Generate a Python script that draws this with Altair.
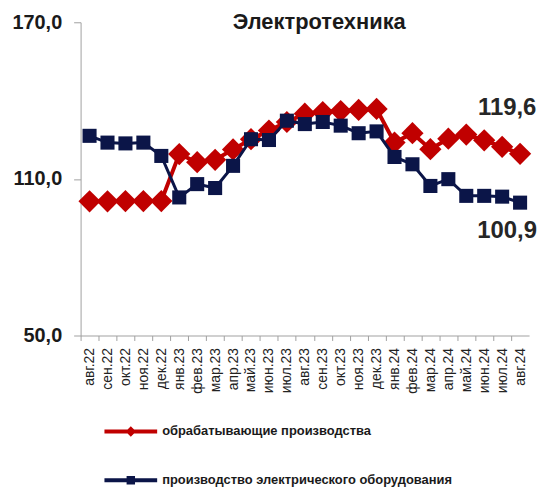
import altair as alt
import pandas as pd

months = ["авг.22", "сен.22", "окт.22", "ноя.22", "дек.22", "янв.23", "фев.23", "мар.23",
          "апр.23", "май.23", "июн.23", "июл.23", "авг.23", "сен.23", "окт.23", "ноя.23",
          "дек.23", "янв.24", "фев.24", "мар.24", "апр.24", "май.24", "июн.24", "июл.24", "авг.24"]
manuf = [101.4, 101.4, 101.5, 101.5, 101.5, 119.5, 116.4, 117.3, 121.3, 125.2, 128.5, 131.8,
         135.0, 135.6, 136.0, 136.4, 136.8, 123.9, 127.5, 121.4, 125.4, 127.0, 124.8, 122.3, 119.6]
electro = [126.5, 123.9, 123.6, 123.9, 118.8, 102.9, 108.0, 106.5, 115.0, 125.2, 124.9, 132.3,
           131.0, 131.8, 130.4, 127.5, 128.2, 118.4, 115.6, 107.3, 109.9, 103.5, 103.5, 103.2, 100.9]
series_names = ["обрабатывающие производства", "производство электрического оборудования"]
colors = ["#C00000", "#0B1548"]
y_ticks = [50, 110, 170]
title_text = "Электротехника"

rows = []
for s, vals in zip(series_names, [manuf, electro]):
    for m, v in zip(months, vals):
        rows.append({"month": m, "value": v, "series": s})
df = pd.DataFrame(rows)

FONT = "Liberation Sans"
W, H = 451, 315
step = W / len(months)

x_enc = alt.X("month:N", sort=months, scale=alt.Scale(type="point", padding=0.5),
              axis=alt.Axis(title=None, labelAngle=270, labelFontSize=14, labelColor="#222222",
                            labelFont=FONT, tickSize=5, tickOffset=-step / 2, labelOffset=step / 2,
                            labelPadding=7, domainColor="#a0a0a0", tickColor="#a0a0a0", grid=False))
y_enc = alt.Y("value:Q", scale=alt.Scale(domain=[50, 170], nice=False, zero=False),
              axis=alt.Axis(title=None, values=y_ticks,
                            labelExpr="replace(format(datum.value, '.1f'), '.', ',')",
                            labelFontSize=20, labelFontWeight="bold", labelFont=FONT,
                            labelColor="#1a1a1a", tickSize=7, labelPadding=12, labelFlush=False,
                            domainColor="#a0a0a0", tickColor="#a0a0a0", grid=False))

base = alt.Chart(df)
red = base.transform_filter(alt.datum.series == series_names[0])
blue = base.transform_filter(alt.datum.series == series_names[1])

red_line = red.mark_line(color=colors[0], strokeWidth=4).encode(x=x_enc, y=y_enc)
red_pts = red.mark_point(shape="diamond", filled=True, size=500, color=colors[0], opacity=1).encode(x=x_enc, y=y_enc)
blue_line = blue.mark_line(color=colors[1], strokeWidth=3).encode(x=x_enc, y=y_enc)
blue_pts = blue.mark_point(shape="square", filled=True, size=200, color=colors[1], opacity=1).encode(x=x_enc, y=y_enc)

lbl_calc = "replace(format(datum.value, '.1f'), '.', ',')"
red_lbl = red.transform_filter(alt.datum.month == months[-1]).transform_calculate(lbl=lbl_calc).mark_text(
    font=FONT, fontSize=24, fontWeight="bold", color="#262626", dx=-13, dy=-46, align="center", baseline="middle"
).encode(x=x_enc, y=y_enc, text="lbl:N")
blue_lbl = blue.transform_filter(alt.datum.month == months[-1]).transform_calculate(lbl=lbl_calc).mark_text(
    font=FONT, fontSize=24, fontWeight="bold", color="#262626", dx=-13, dy=29, align="center", baseline="middle"
).encode(x=x_enc, y=y_enc, text="lbl:N")

title_layer = alt.Chart(pd.DataFrame({"t": [title_text]})).mark_text(
    font=FONT, fontSize=22, fontWeight="bold", color="#1a1a1a", align="center", baseline="alphabetic"
).encode(text="t:N", x=alt.value(240), y=alt.value(7))

path_red = "M-1,-0.075L1,-0.075L1,0.075L-1,0.075Z M0,-0.2L0.2,0L0,0.2L-0.2,0Z"
path_blue = "M-1,-0.075L1,-0.075L1,0.075L-1,0.075Z M-0.16,-0.16L0.16,-0.16L0.16,0.16L-0.16,0.16Z"
leg = alt.Legend(title=None, orient="none", legendX=24, legendY=385, direction="vertical",
                 symbolSize=2809, labelFont=FONT, labelFontSize=13, labelFontWeight="bold",
                 labelColor="#1a1a1a", labelOffset=5, rowPadding=15, symbolStrokeWidth=0, labelLimit=0)
legend_layer = alt.Chart(pd.DataFrame({"series": series_names})).transform_filter("false").mark_point(
    filled=True, opacity=1
).encode(
    color=alt.Color("series:N", scale=alt.Scale(domain=series_names, range=colors), legend=leg),
    shape=alt.Shape("series:N", scale=alt.Scale(domain=series_names, range=[path_red, path_blue]), legend=leg),
)

chart = alt.layer(red_line, red_pts, blue_line, blue_pts, red_lbl, blue_lbl, title_layer, legend_layer).properties(
    width=W, height=H, autosize=alt.AutoSizeParams(type="none"),
    padding={"left": 73, "top": 13, "right": 10, "bottom": 154}, background="white"
).configure_view(stroke=None)

chart.save("out.html", embed_options={"renderer": "svg", "actions": False})
